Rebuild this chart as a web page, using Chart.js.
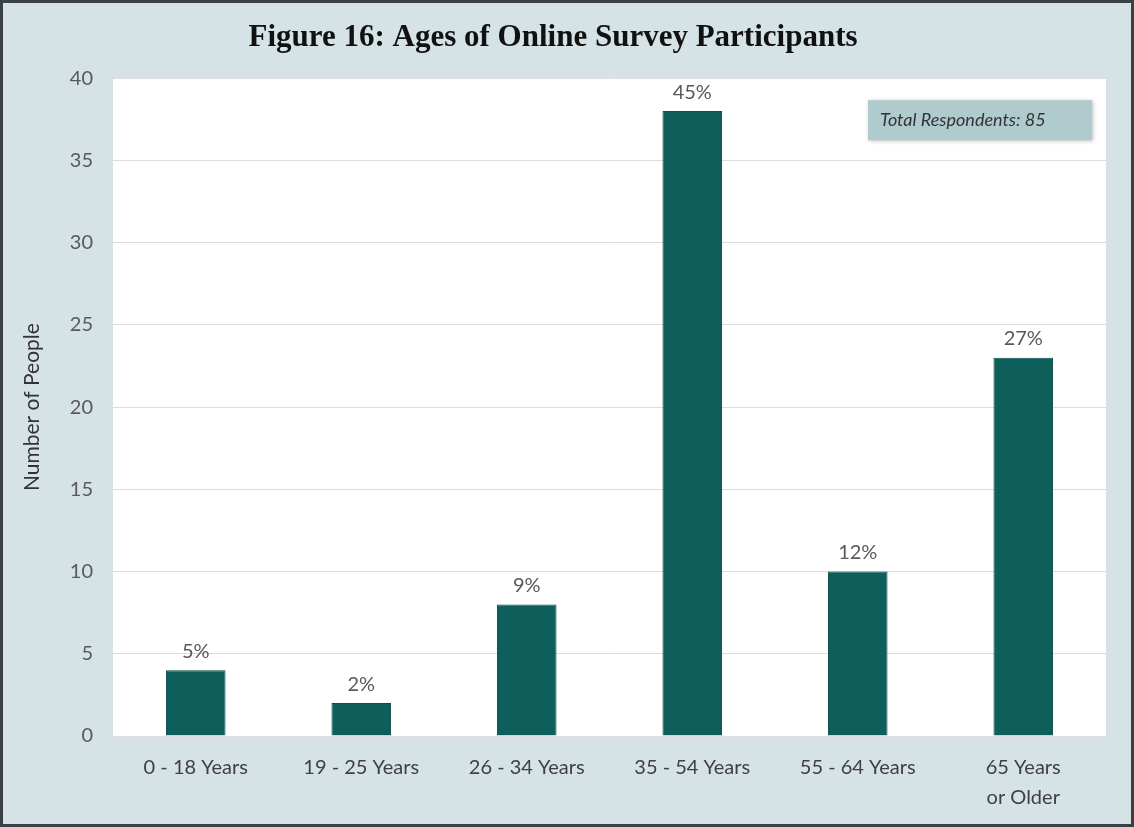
<!DOCTYPE html>
<html>
<head>
<meta charset="utf-8">
<script src="https://cdn.jsdelivr.net/npm/chart.js@4"></script>
<style>
  html, body { margin: 0; padding: 0; background: #fff; }
  #wrap { width: 1134px; height: 827px; }
</style>
</head>
<body>
<div id="wrap"><canvas id="ageChart" width="1134" height="827"></canvas></div>
<script>
// chart data
const ageGroups = ["0 - 18 Years", "19 - 25 Years", "26 - 34 Years", "35 - 54 Years", "55 - 64 Years", ["65 Years", "or Older"]];
const peopleCounts = [4, 2, 8, 38, 10, 23];
const percentLabels = ["5%", "2%", "9%", "45%", "12%", "27%"];
const yTicks = [0, 5, 10, 15, 20, 25, 30, 35, 40];
const totalNote = "Total Respondents: 85";

const textFont = "Lato, 'Open Sans', sans-serif";

// background, white plot area and frame
const framePlugin = {
    id: "frame",
    beforeDraw(chart) {
        const { ctx, chartArea: a, width, height } = chart;
        ctx.save();
        ctx.fillStyle = "#d6e3e6";
        ctx.fillRect(0, 0, width, height);
        ctx.fillStyle = "#ffffff";
        ctx.fillRect(a.left, a.top, a.right - a.left, a.bottom - a.top);
        ctx.strokeStyle = "#3b4045";
        ctx.lineWidth = 3;
        ctx.strokeRect(1.5, 1.5, width - 3, height - 3);
        ctx.restore();
    }
};

// percent labels above bars + respondents box
const labelPlugin = {
    id: "labels",
    afterDatasetsDraw(chart) {
        const { ctx, chartArea: a } = chart;
        const meta = chart.getDatasetMeta(0);
        ctx.save();
        ctx.font = "20px " + textFont;
        ctx.fillStyle = "#595959";
        ctx.textAlign = "center";
        ctx.textBaseline = "bottom";
        meta.data.forEach((bar, i) => {
            ctx.fillText(percentLabels[i], bar.x, bar.y - 9);
        });

        // note box
        const bw = 224, bh = 40;
        const bx = a.right - 14 - bw, by = a.top + 22;
        ctx.shadowColor = "rgba(0,0,0,0.25)";
        ctx.shadowBlur = 4;
        ctx.shadowOffsetX = 1;
        ctx.shadowOffsetY = 1;
        ctx.fillStyle = "#afcbcd";
        ctx.fillRect(bx, by, bw, bh);
        ctx.shadowColor = "transparent";
        ctx.font = "italic 18px " + textFont;
        ctx.fillStyle = "#333333";
        ctx.textAlign = "left";
        ctx.textBaseline = "middle";
        ctx.fillText(totalNote, bx + 12, by + bh / 2);
        ctx.restore();
    }
};

const ctx = document.getElementById("ageChart").getContext("2d");
new Chart(ctx, {
    type: "bar",
    data: {
        labels: ageGroups,
        datasets: [{
            label: "Number of People",
            data: peopleCounts,
            backgroundColor: "#0e5f5c",
            borderColor: "#0b4e4b",
            borderWidth: 1,
            barPercentage: 0.6,
            categoryPercentage: 0.6
        }]
    },
    options: {
        responsive: false,
        animation: false,
        layout: { padding: { top: 0, right: 28, bottom: 0, left: 0 } },
        plugins: {
            legend: { display: false },
            tooltip: { enabled: false },
            title: {
                display: true,
                text: "Figure 16: Ages of Online Survey Participants",
                color: "#111111",
                font: { family: "'Liberation Serif', 'DejaVu Serif', serif", size: 31, weight: "bold" },
                padding: { top: 19, bottom: 22 }
            }
        },
        scales: {
            x: {
                grid: { display: false },
                border: { display: false },
                ticks: {
                    color: "#404040",
                    padding: 9,
                    font: { family: textFont, size: 20, lineHeight: 1.5 },
                    maxRotation: 0
                },
                afterFit: s => { s.height = 91; }
            },
            y: {
                min: 0,
                max: 40,
                afterBuildTicks: s => { s.ticks = yTicks.map(v => ({ value: v })); },
                grid: { color: "#dcdcdc", lineWidth: 1, drawTicks: false },
                border: { display: false },
                ticks: {
                    color: "#595959",
                    padding: 20,
                    font: { family: textFont, size: 20 }
                },
                title: {
                    display: true,
                    text: "Number of People",
                    color: "#333333",
                    font: { family: textFont, size: 21 },
                    padding: { top: 20 }
                },
                afterFit: s => { s.width = 113; }
            }
        }
    },
    plugins: [framePlugin, labelPlugin]
});
</script>
</body>
</html>
